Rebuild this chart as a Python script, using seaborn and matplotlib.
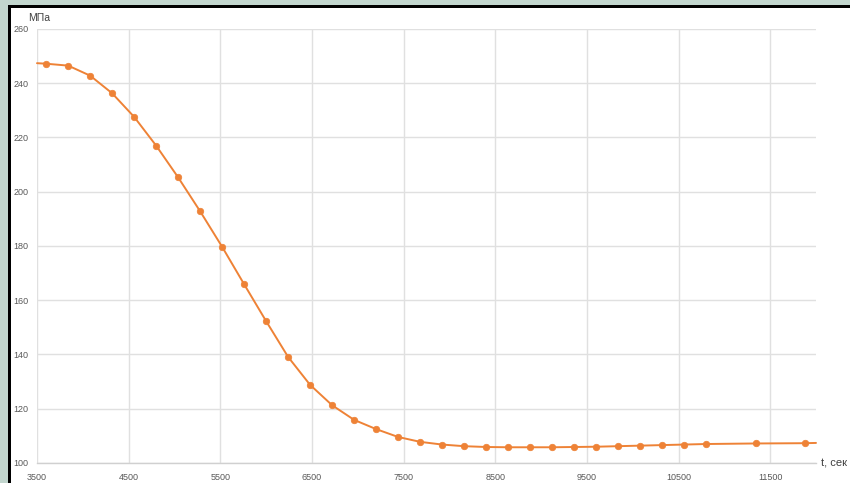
import matplotlib
matplotlib.use("Agg")
import matplotlib.pyplot as plt
import seaborn as sns
import pandas as pd
from matplotlib.patches import Rectangle

# --- data ---
t_points = [3600, 3840, 4080, 4320, 4560, 4800, 5040, 5280, 5520, 5760, 6000,
            6240, 6480, 6720, 6960, 7200, 7440, 7680, 7920, 8160, 8400, 8640,
            8880, 9120, 9360, 9600, 9840, 10080, 10320, 10560, 10800, 11340, 11880]
sigma_points = [247.2, 246.5, 242.8, 236.3, 227.6, 217.0, 205.3, 192.8, 179.7,
                165.9, 152.3, 139.1, 128.8, 121.3, 115.9, 112.5, 109.6, 107.8,
                106.8, 106.2, 105.9, 105.8, 105.8, 105.8, 105.9, 106.0, 106.2,
                106.4, 106.6, 106.8, 107.0, 107.2, 107.3]
# curve continues to the plot edges (no markers there)
t_line_start, sigma_line_start = 3500, 247.4
t_line_end, sigma_line_end = 12000, 107.4

x_ticks = [3500, 4500, 5500, 6500, 7500, 8500, 9500, 10500, 11500]
y_ticks = [100, 120, 140, 160, 180, 200, 220, 240, 260]
y_label = "МПа"
x_label = "t, сек"

df_pts = pd.DataFrame({"t": t_points, "sigma": sigma_points})
df_line = pd.DataFrame({
    "t": [t_line_start] + t_points + [t_line_end],
    "sigma": [sigma_line_start] + sigma_points + [sigma_line_end],
})

sns.set_theme(style="white")
plt.rcParams["font.family"] = ["Liberation Sans", "DejaVu Sans"]

W, H = 850, 483
fig = plt.figure(figsize=(W / 100, H / 100), dpi=100)
fig.patch.set_facecolor("white")

# screenshot frame: greenish band + black border
band = "#c2d6ce"
fig.add_artist(Rectangle((0, 1 - 5 / H), 1, 5 / H, transform=fig.transFigure,
                         facecolor=band, edgecolor="none", zorder=0))
fig.add_artist(Rectangle((0, 0), 8 / W, 1, transform=fig.transFigure,
                         facecolor=band, edgecolor="none", zorder=0))
fig.add_artist(Rectangle((8 / W, 0), 2.5 / W, 1 - 5 / H, transform=fig.transFigure,
                         facecolor="black", edgecolor="none", zorder=1))
fig.add_artist(Rectangle((8 / W, 1 - 8 / H), 1 - 8 / W, 3 / H, transform=fig.transFigure,
                         facecolor="black", edgecolor="none", zorder=1))

left, right, top, bottom = 37, 816, 29, 463
ax = fig.add_axes([left / W, 1 - bottom / H, (right - left) / W, (bottom - top) / H])
ax.set_facecolor("white")

orange = "#EE8236"
sns.lineplot(data=df_line, x="t", y="sigma", ax=ax, color=orange, linewidth=1.4,
             zorder=3, clip_on=False)
sns.scatterplot(data=df_pts, x="t", y="sigma", ax=ax, color=orange, s=22,
                edgecolor=orange, linewidth=0.5, zorder=4)

ax.set_xlim(3500, 12000)
ax.set_ylim(100, 260)
ax.set_xticks(x_ticks)
ax.set_yticks(y_ticks)
ax.set_xticklabels([str(v) for v in x_ticks])
ax.set_yticklabels([str(v) for v in y_ticks])
ax.grid(True, color="#e0e0e0", linewidth=1.0)
ax.set_axisbelow(True)
for s in ["top", "right", "left"]:
    ax.spines[s].set_visible(False)
ax.spines["bottom"].set_color("#d0d0d0")
ax.spines["bottom"].set_linewidth(1.0)
ax.tick_params(axis="both", length=0, labelsize=6.5, labelcolor="#595959")
ax.tick_params(axis="x", pad=7)
ax.tick_params(axis="y", pad=6)
ax.set_xlabel("")
ax.set_ylabel("")

fig.text(28 / W, 1 - 18 / H, y_label, fontsize=7.5, color="#404040",
         ha="left", va="center")
fig.text(821 / W, 1 - 463 / H, x_label, fontsize=8, color="#404040",
         ha="left", va="center")

fig.savefig("out.png", dpi=100)
